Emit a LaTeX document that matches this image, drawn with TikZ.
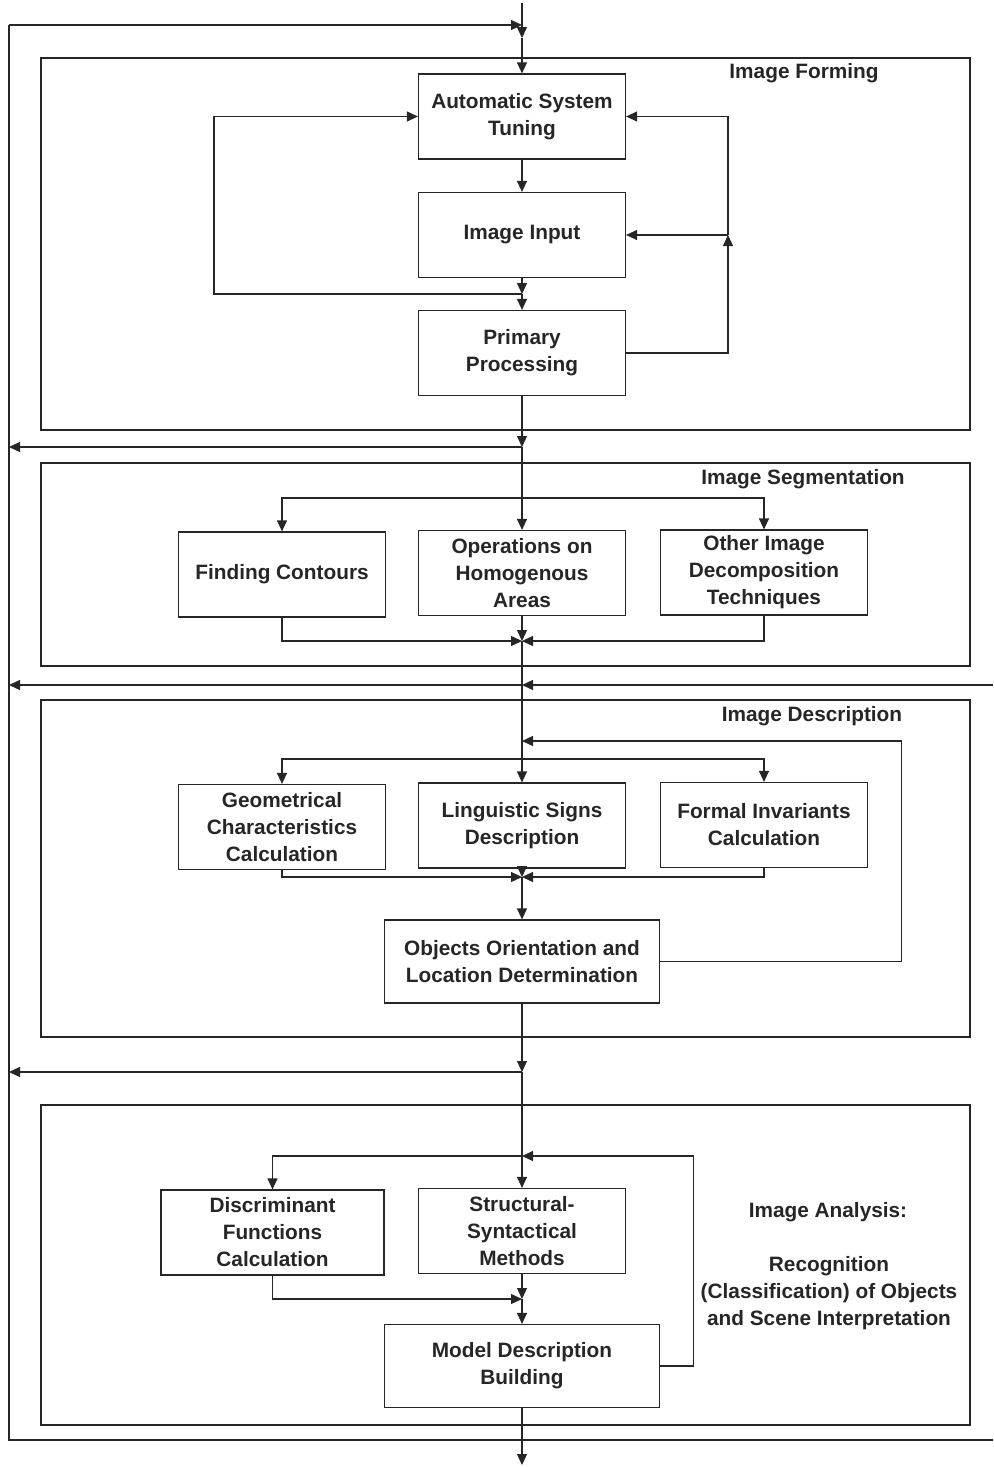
\documentclass[tikz,border=0pt]{standalone}
\usepackage{fontspec}
\setmainfont{Liberation Sans}
\usetikzlibrary{arrows.meta}
\begin{document}
\begin{tikzpicture}[x=0.5pt,y=-0.5pt,line width=0.6pt,color=black!85,
    box/.style={draw,align=center,inner sep=0pt,minimum width=103.5pt,minimum height=42.5pt,
      font=\bfseries\fontsize{10.4}{13.5}\selectfont},
    widebox/.style={box,minimum width=137.5pt,minimum height=41.5pt},
    title/.style={align=center,font=\bfseries\fontsize{10.4}{13.5}\selectfont},
    arr/.style={-{Triangle[length=5.5pt,width=5pt]}}]
      \useasboundingbox (0,0) rectangle (993,1467);
      % stages
      \draw (41,58) rectangle (970,430);
      \draw (41,463) rectangle (970,666);
      \draw (41,700) rectangle (970,1037);
      \draw (41,1105) rectangle (970,1425);
      \node[title] (tform) at (804,73) {Image Forming};
      \node[title] (tsegm) at (803,479) {Image Segmentation};
      \node[title] (tdesc) at (812,716) {Image Description};
      \node[title] (tanal) at (828,1212) {Image Analysis:};
      \node[title] (trecog) at (829,1293) {Recognition\\(Classification) of Objects\\and Scene Interpretation};
      % blocks
      \node[box] (ast) at (522,116.5) {Automatic System\\Tuning};
      \node[box] (inp) at (522,235) {Image Input};
      \node[box] (prim) at (522,353) {Primary\\Processing};
      \node[box] (cont) at (282,574.5) {Finding Contours};
      \node[box] (homo) at (522,573) {Operations on\\Homogenous\\Areas};
      \node[box] (other) at (764,572.5) {Other Image\\Decomposition\\Techniques};
      \node[box] (geom) at (282,827) {Geometrical\\Characteristics\\Calculation};
      \node[box] (ling) at (522,825.5) {Linguistic Signs\\Description};
      \node[box] (formal) at (764,825) {Formal Invariants\\Calculation};
      \node[widebox] (orient) at (522,961.5) {Objects Orientation and\\Location Determination};
      \node[box,minimum width=111.5pt] (discr) at (272.5,1232.5) {Discriminant\\Functions\\Calculation};
      \node[box] (struct) at (522,1231) {Structural-\\Syntactical\\Methods};
      \node[widebox] (model) at (522,1366) {Model Description\\Building};
      % junctions
      \coordinate (top) at (522,3);
      \coordinate (in) at (522,25);
      \coordinate (t1) at (522,38);
      \coordinate (ltop) at (9,25);
      \coordinate (lbot) at (9,1440);
      \coordinate (rbot) at (993,1440);
      \coordinate (rmid) at (993,685);
      \coordinate (j1) at (522,294);
      \coordinate (r1) at (728,235);
      \coordinate (o1) at (522,447);
      \coordinate (l1) at (9,447);
      \coordinate (s1) at (522,498);
      \coordinate (m1) at (522,641);
      \coordinate (o2) at (522,685);
      \coordinate (l2) at (9,685);
      \coordinate (f2) at (522,741);
      \coordinate (s2) at (522,759);
      \coordinate (m2) at (522,877);
      \coordinate (o3) at (522,1072);
      \coordinate (l3) at (9,1072);
      \coordinate (s3) at (522,1156);
      \coordinate (m3) at (522,1299);
      \coordinate (bot) at (522,1465);
      % return lines
      \draw (rbot) -- (lbot) -- (ltop);
      \draw[arr] (ltop) -- (in);
      \draw[arr] (top) -- (t1);
      \draw[arr] (t1) -- (ast);
      % image forming
      \draw[arr] (ast) -- (inp);
      \draw[arr] (inp) -- (j1);
      \draw[arr] (j1) -- (prim);
      \draw[arr] (j1) -- ++(-308,0) |- (ast.west);
      \draw[arr] (prim.east) -| (r1);
      \draw[arr] (r1) -- (inp.east);
      \draw[arr] (r1) |- (ast.east);
      \draw[arr] (prim) -- (o1);
      \draw[arr] (o1) -- (l1);
      % image segmentation
      \draw[arr] (o1) -- (homo);
      \draw[arr] (s1) -| (cont.north);
      \draw[arr] (s1) -| (other.north);
      \draw[arr] (cont.south) |- (m1);
      \draw[arr] (other.south) |- (m1);
      \draw[arr] (homo) -- (m1);
      \draw (m1) -- (o2);
      \draw[arr] (rmid) -- (o2);
      \draw[arr] (o2) -- (l2);
      % image description
      \draw[arr] (o2) -- (ling);
      \draw[arr] (orient.east) -- ++(241,0) |- (f2);
      \draw[arr] (s2) -| (geom.north);
      \draw[arr] (s2) -| (formal.north);
      \draw[arr] (geom.south) |- (m2);
      \draw[arr] (formal.south) |- (m2);
      \draw[arr] (ling) -- (m2);
      \draw[arr] (m2) -- (orient);
      \draw[arr] (orient) -- (o3);
      \draw[arr] (o3) -- (l3);
      % image analysis
      \draw[arr] (o3) -- (struct);
      \draw[arr] (model.east) -- ++(33,0) |- (s3);
      \draw[arr] (s3) -| (discr.north);
      \draw[arr] (discr.south) |- (m3);
      \draw[arr] (struct) -- (m3);
      \draw[arr] (m3) -- (model);
      \draw[arr] (model) -- (bot);
    \end{tikzpicture}
\end{document}
